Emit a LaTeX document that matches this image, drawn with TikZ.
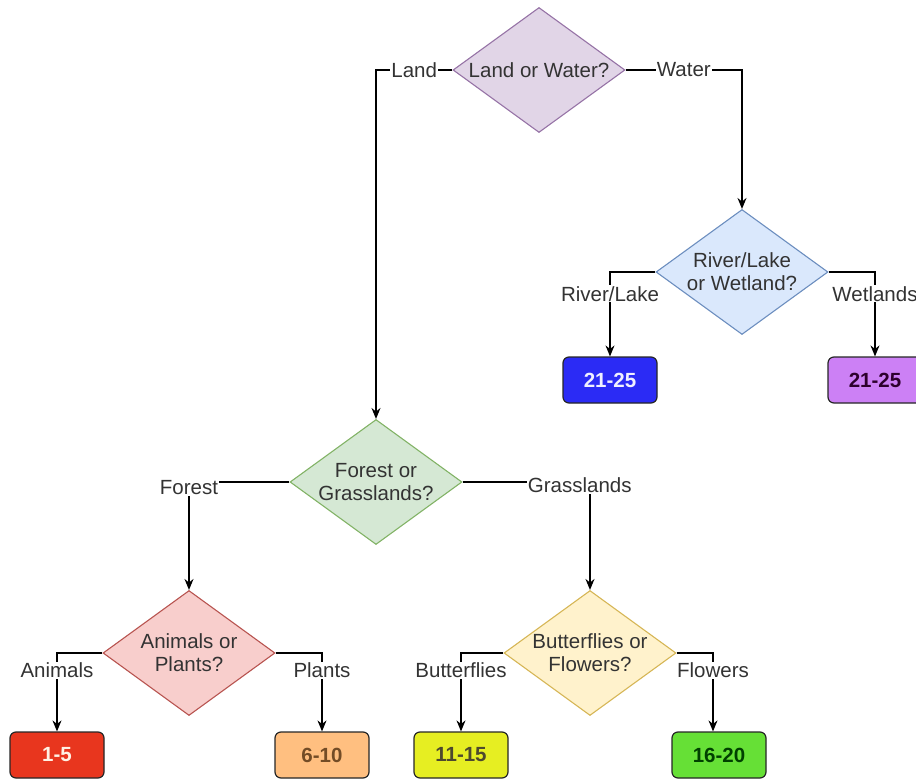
\documentclass[tikz,border=0pt]{standalone}
\usepackage{fontspec}
\setmainfont{Liberation Sans}
\usepackage{xcolor}
\usepackage{tikz}
\usetikzlibrary{shapes.geometric,positioning,arrows.meta}

\definecolor{lwfill}{HTML}{E1D5E7}
\definecolor{lwline}{HTML}{9673A6}
\definecolor{rwfill}{HTML}{DAE8FC}
\definecolor{rwline}{HTML}{6C8EBF}
\definecolor{fgfill}{HTML}{D5E8D4}
\definecolor{fgline}{HTML}{82B366}
\definecolor{apfill}{HTML}{F8CECC}
\definecolor{apline}{HTML}{B85450}
\definecolor{bffill}{HTML}{FFF2CC}
\definecolor{bfline}{HTML}{D6B656}
\definecolor{txt}{HTML}{333333}
% answer boxes
\definecolor{riverbox}{HTML}{2B2BF5}
\definecolor{wetbox}{HTML}{CC80F5}
\definecolor{animalbox}{HTML}{E8361E}
\definecolor{plantbox}{HTML}{FFBF80}
\definecolor{flybox}{HTML}{E6EE22}
\definecolor{flowerbox}{HTML}{66E036}

\begin{document}
\begin{tikzpicture}[x=1pt, y=-1pt, on grid,
    font=\fontsize{20.5}{23}\selectfont,
    question/.style 2 args={diamond, draw=#2, fill=#1, line width=1.1pt,
      minimum width=172pt, minimum height=125pt, inner sep=0pt},
    inside/.style={align=center, text=txt},
    outcome/.style 2 args={rectangle, rounded corners=6pt, draw=black!85,
      line width=1.2pt, fill=#1, text=#2, font=\fontsize{20.5}{23}\selectfont\bfseries,
      minimum width=94pt, minimum height=46pt},
    flow/.style={line width=1.3pt, -{Stealth[length=11pt, width=9pt]}},
    lbl/.style={fill=white, inner sep=1pt, text=txt}]

  \useasboundingbox (0,0) rectangle (916,781);

  % questions
  \node[question={lwfill}{lwline}] (LW) at (539,70)
    [label={[inside]center:Land or Water?}] {};
  \node[question={rwfill}{rwline}] (RW) [below right = 202pt and 203pt of LW]
    [label={[inside]center:River/Lake\\or Wetland?}] {};
  \node[question={fgfill}{fgline}] (FG) [below left = 412pt and 163pt of LW]
    [label={[inside]center:Forest or\\Grasslands?}] {};
  \node[question={apfill}{apline}] (AP) [below left = 171pt and 187pt of FG]
    [label={[inside]center:Animals or\\Plants?}] {};
  \node[question={bffill}{bfline}] (BF) [below right = 171pt and 214pt of FG]
    [label={[inside]center:Butterflies or\\Flowers?}] {};

  % answers
  \node[outcome={riverbox}{blue!6}] (r1) [below left = 108pt and 132pt of RW] {21-25};
  \node[outcome={wetbox}{violet!35!black}] (r2) [below right = 108pt and 133pt of RW] {21-25};
  \node[outcome={animalbox}{orange!10}] (a1) [below left = 102pt and 132pt of AP] {1-5};
  \node[outcome={plantbox}{brown!60!black}] (a2) [below right = 102pt and 133pt of AP] {6-10};
  \node[outcome={flybox}{olive!40!black}] (b1) [below left = 102pt and 129pt of BF] {11-15};
  \node[outcome={flowerbox}{green!25!black}] (b2) [below right = 102pt and 129pt of BF] {16-20};

  % branches
  \draw[flow] (LW.west) -| node[lbl, pos=0.25] {Land} (FG.north);
  \draw[flow] (LW.east) -| node[lbl, pos=0.25] {Water} (RW.north);
  \draw[flow] (RW.west) -| node[lbl, pos=0.63] {River/Lake} (r1.north);
  \draw[flow] (RW.east) -| node[lbl, pos=0.63] {Wetlands} (r2.north);
  \draw[flow] (FG.west) -| node[lbl, pos=0.5, yshift=-6pt] {Forest} (AP.north);
  \draw[flow] (FG.east) -| node[lbl, pos=0.46, yshift=-3pt] {Grasslands} (BF.north);
  \draw[flow] (AP.west) -| node[lbl, pos=0.61] {Animals} (a1.north);
  \draw[flow] (AP.east) -| node[lbl, pos=0.61] {Plants} (a2.north);
  \draw[flow] (BF.west) -| node[lbl, pos=0.61] {Butterflies} (b1.north);
  \draw[flow] (BF.east) -| node[lbl, pos=0.61] {Flowers} ([xshift=-6pt]b2.north);
\end{tikzpicture}
\end{document}
